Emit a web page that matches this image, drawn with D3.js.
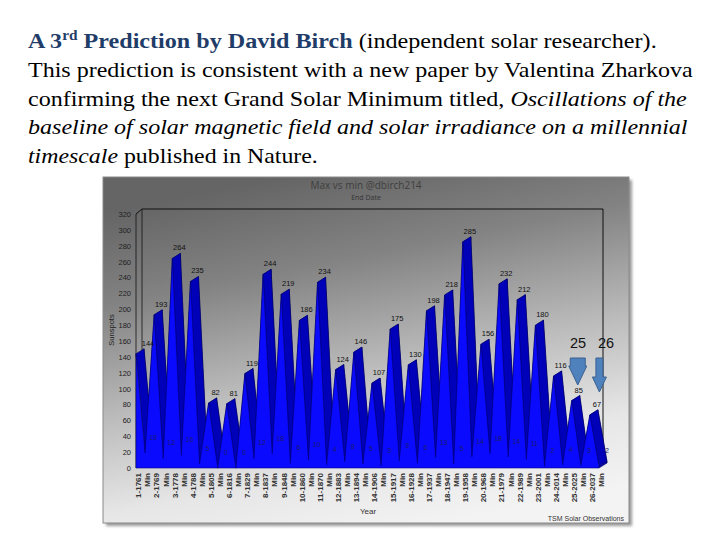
<!DOCTYPE html>
<html><head><meta charset="utf-8">
<script src="https://cdn.jsdelivr.net/npm/d3@7"></script>
<style>
html,body{margin:0;padding:0;background:#fff;}svg{display:block;}
.serif{font-family:"Liberation Serif","Times New Roman",Tinos,"Nimbus Roman",Times,serif;}
</style>
</head><body>
<svg id="c" width="720" height="540"></svg>
<script>
// ---- data ----
const maxima = [144,193,264,235,82,81,119,244,219,186,234,124,146,107,175,130,198,218,285,156,232,212,180,116,85,67];
const minima = [19,12,16,5,0,0,12,18,6,10,4,8,5,3,9,6,13,5,14,18,14,11,2,4,3,2];
const cycleYears = [1761,1769,1778,1788,1805,1816,1829,1837,1848,1860,1870,1883,1894,1906,1917,1928,1937,1947,1958,1968,1979,1989,2001,2014,2025,2037];
const yTicks = [0,20,40,60,80,100,120,140,160,180,200,220,240,260,280,300,320];
const annotations = ["25","26"];

const series = [];
maxima.forEach((m,k)=>{
  series.push({label:(k+1)+"-"+cycleYears[k], value:m, type:"max"});
  series.push({label:"Min", value:minima[k], type:"min"});
});

const svg = d3.select("#c");
const defs = svg.append("defs");

// ---- slide text ----
const lines = [
  {y:48, w:629, parts:[
    {t:"A 3", b:true, c:"#1f3d68"},
    {t:"rd", b:true, c:"#1f3d68", sup:true},
    {t:" Prediction by David Birch", b:true, c:"#1f3d68"},
    {t:" (independent solar researcher).", c:"#000"}]},
  {y:77, w:665, parts:[{t:"This prediction is consistent with a new paper by Valentina Zharkova", c:"#000"}]},
  {y:106, w:659, parts:[{t:"confirming the next Grand Solar Minimum titled, ", c:"#000"},{t:"Oscillations of the", i:true, c:"#000"}]},
  {y:134, w:660, parts:[{t:"baseline of solar magnetic field and solar irradiance on a millennial", i:true, c:"#000"}]},
  {y:163, w:290, parts:[{t:"timescale", i:true, c:"#000"},{t:" published in Nature.", c:"#000"}]}
];
lines.forEach(L=>{
  const t = svg.append("text").attr("class","serif").attr("font-size",22).attr("x",0).attr("y",0);
  let prevSup=false;
  L.parts.forEach(p=>{
    const ts = t.append("tspan").text(p.t).attr("fill",p.c)
      .attr("font-weight",p.b?"bold":"normal").attr("font-style",p.i?"italic":"normal");
    if(p.sup){ts.attr("font-size",14).attr("dy",-8); prevSup=true;}
    else if(prevSup){ts.attr("dy",8); prevSup=false;}
  });
  const w = t.node().getComputedTextLength();
  t.attr("transform",`translate(28,${L.y}) scale(${L.w/w},1)`);
});

// ---- chart frame ----
const F = {x:103, y:177, w:526, h:346};
const sh = defs.append("filter").attr("id","sh").attr("x","-5%").attr("y","-5%").attr("width","115%").attr("height","115%");
sh.append("feGaussianBlur").attr("stdDeviation",1.5);
const g1 = defs.append("linearGradient").attr("id","bg").attr("x1","0.35").attr("y1","0").attr("x2","0.65").attr("y2","1");
[[0,"#656565"],[0.25,"#838383"],[0.55,"#bcbcbc"],[0.8,"#e6e6e6"],[1,"#f3f3f3"]].forEach(s=>g1.append("stop").attr("offset",s[0]).attr("stop-color",s[1]));
svg.append("rect").attr("x",F.x+3).attr("y",F.y+3).attr("width",F.w).attr("height",F.h).attr("fill","#9a9a9a").attr("filter","url(#sh)");
svg.append("rect").attr("x",F.x).attr("y",F.y).attr("width",F.w).attr("height",F.h).attr("fill","url(#bg)").attr("stroke","#8a8a8a").attr("stroke-width",1);

// chart titles
svg.append("text").attr("x",366).attr("y",189).attr("text-anchor","middle")
  .attr("font-family","'Open Sans','DejaVu Sans',sans-serif").attr("font-size",10).attr("fill","#3e3e3e")
  .text("Max vs min @dbirch214");
svg.append("text").attr("x",366).attr("y",200).attr("text-anchor","middle")
  .attr("font-family","'Open Sans','DejaVu Sans',sans-serif").attr("font-size",7).attr("fill","#333")
  .text("End Date");

// ---- scales ----
const x = d3.scalePoint().domain(d3.range(series.length)).range([136,599]);
const y = d3.scaleLinear().domain([0,320]).range([468,214]);
const WX = 6, WY = -5;   // wall depth
const DX = 8, DY = -5;   // series depth

// walls
const plot = svg.append("g");
const last = series.length-1;
plot.append("path").attr("d",`M${x(0)},${y(320)}L${x(0)+WX},${y(320)+WY}L${x(last)+WX-2},${y(320)+WY}L${x(last)+WX-2},${y(0)+WY-2}`)
  .attr("fill","none").attr("stroke","#111").attr("stroke-width",1);
plot.append("line").attr("x1",x(0)).attr("x2",x(0)).attr("y1",y(320)).attr("y2",y(0)).attr("stroke","#111").attr("stroke-width",0.8);
plot.append("line").attr("x1",x(0)+WX).attr("x2",x(0)+WX).attr("y1",y(320)+WY).attr("y2",y(0)+WY).attr("stroke","#111").attr("stroke-width",0.8);

// ---- 3D area ----
const area = d3.area().x((d,i)=>x(i)).y0(y(0)).y1(d=>y(d.value));
plot.append("path").datum(series).attr("d",area).attr("transform",`translate(${DX},${DY})`)
  .attr("fill","#00009c").attr("stroke","#000060").attr("stroke-width",0.5);
const quads = [];
for(let i=0;i<last;i++){
  const a=[x(i),y(series[i].value)], b=[x(i+1),y(series[i+1].value)];
  quads.push({pts:[a,b,[b[0]+DX,b[1]+DY],[a[0]+DX,a[1]+DY]], up: series[i+1].value>series[i].value});
}
quads.push({pts:[[x(last),y(series[last].value)],[x(last),y(0)],[x(last)+DX,y(0)+DY],[x(last)+DX,y(series[last].value)+DY]], up:false});
plot.selectAll("path.q").data(quads).join("path").attr("class","q")
  .attr("d",d=>"M"+d.pts.map(p=>p.join(",")).join("L")+"Z")
  .attr("fill",d=>d.up?"#0000d6":"#0000b8").attr("stroke","#00005a").attr("stroke-width",0.5);
plot.append("path").datum(series).attr("d",area)
  .attr("fill","#0a0aff").attr("stroke","#000078").attr("stroke-width",0.6);

// data labels
plot.selectAll("text.mx").data(series.map((d,i)=>({d,i})).filter(o=>o.d.type==="max")).join("text").attr("class","mx")
  .attr("x",o=>x(o.i)+DX-1+(o.i===0?5:0)).attr("y",o=>y(o.d.value)+DY-3).attr("text-anchor","middle")
  .attr("font-family","'Liberation Sans',Arial,sans-serif").attr("font-size",7.5).attr("fill","#111")
  .text(o=>o.d.value);
plot.selectAll("text.mn").data(series.map((d,i)=>({d,i})).filter(o=>o.d.type==="min")).join("text").attr("class","mn")
  .attr("x",o=>x(o.i)+DX).attr("y",o=>y(o.d.value)+DY-8).attr("text-anchor","middle")
  .attr("font-family","'Liberation Sans',Arial,sans-serif").attr("font-size",7).attr("fill","#1a1a6a")
  .text(o=>o.d.value);

// ---- axes ----
const ya = svg.append("g").attr("transform",`translate(${x(0)},0)`)
  .call(d3.axisLeft(y).tickValues(yTicks).tickSize(0).tickPadding(5));
ya.select(".domain").remove();
ya.selectAll("text").attr("font-family","'Liberation Sans',Arial,sans-serif").attr("font-size",7.5).attr("fill","#222");

const xa = svg.append("g").attr("transform",`translate(2,${y(0)+2})`)
  .call(d3.axisBottom(x).tickFormat(i=>series[i].label).tickSize(0));
xa.select(".domain").remove();
xa.selectAll("text").attr("transform","rotate(-90)").attr("x",-3).attr("y",0).attr("dy","0.35em")
  .attr("text-anchor","end").attr("font-family","'Liberation Sans',Arial,sans-serif").attr("font-size",8)
  .attr("font-weight","bold").attr("fill","#333");

svg.append("text").attr("transform","translate(114,330) rotate(-90)").attr("text-anchor","middle")
  .attr("font-family","'Liberation Sans',Arial,sans-serif").attr("font-size",7.5).attr("fill","#222").text("Sunspots");
svg.append("text").attr("x",368).attr("y",514).attr("text-anchor","middle")
  .attr("font-family","'Liberation Sans',Arial,sans-serif").attr("font-size",8).attr("fill","#333").text("Year");
svg.append("text").attr("x",624).attr("y",521).attr("text-anchor","end")
  .attr("font-family","'Liberation Sans',Arial,sans-serif").attr("font-size",7).attr("fill","#333").text("TSM Solar Observations");

// ---- annotations 25 / 26 ----
const annIdx = [48,50];
const annText = [578,606];
annotations.forEach((a,k)=>{
  svg.append("text").attr("x",annText[k]).attr("y",348).attr("text-anchor","middle")
    .attr("font-family","'Liberation Sans',Arial,sans-serif").attr("font-size",14.5).attr("fill","#111").text(a);
});
const arrows = [
  {cx:x(annIdx[0])+6, sw:7.5, hw:9, top:358, hs:366, tip:385},
  {cx:x(annIdx[1])+9.5, sw:3.5, hw:7, top:358, hs:377, tip:392}
];
arrows.forEach(A=>{
  const d=`M${A.cx-A.sw},${A.top}L${A.cx+A.sw},${A.top}L${A.cx+A.sw},${A.hs}L${A.cx+A.hw},${A.hs}L${A.cx},${A.tip}L${A.cx-A.hw},${A.hs}L${A.cx-A.sw},${A.hs}Z`;
  svg.append("path").attr("d",d).attr("fill","#4f81bd").attr("stroke","#3a6190").attr("stroke-width",1);
});
</script>
</body></html>
